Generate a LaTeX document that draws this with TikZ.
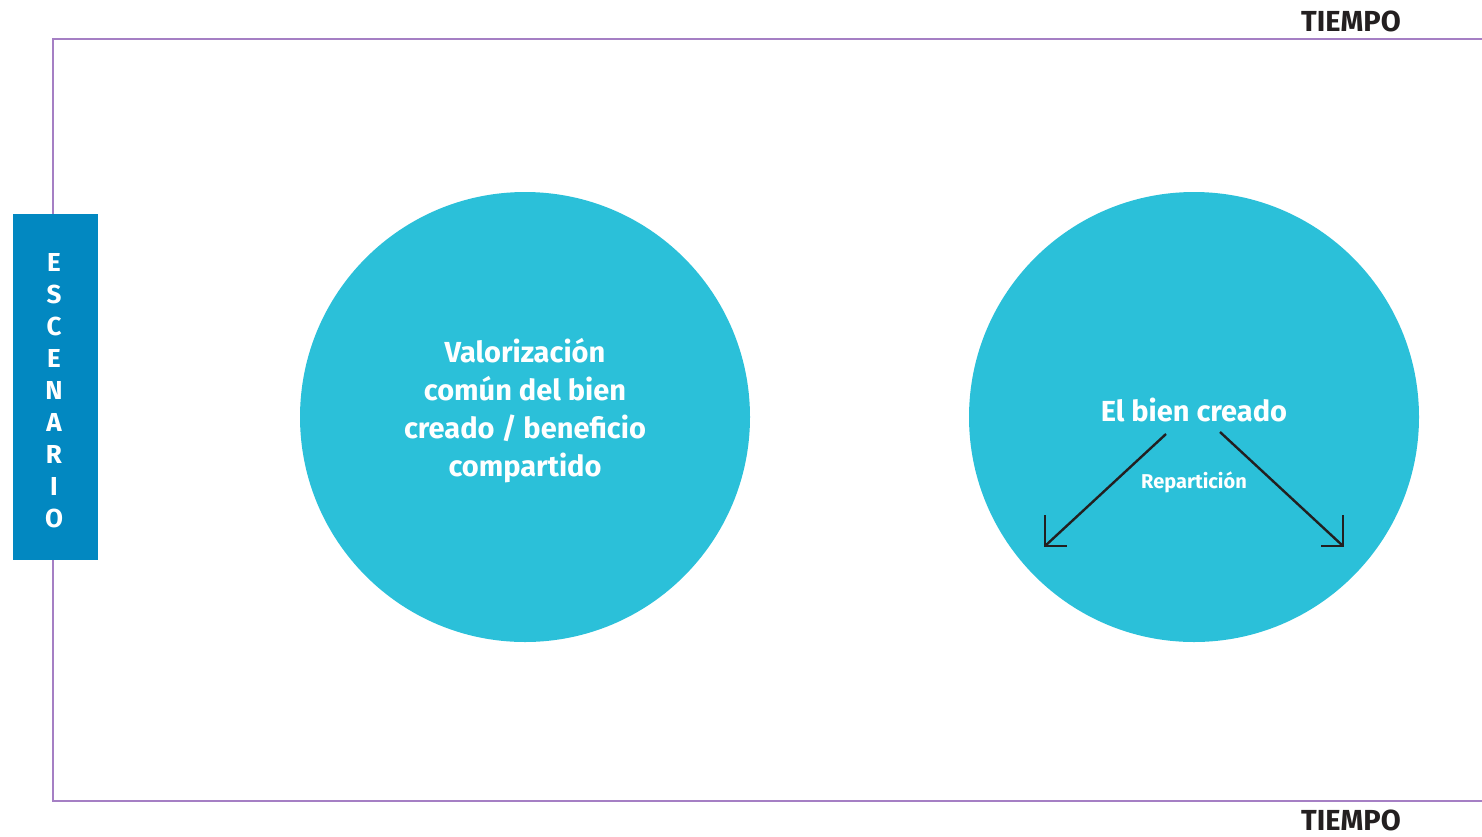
\documentclass[tikz,border=0pt]{standalone}
\usepackage{fontspec}
\setmainfont{Fira Sans}
\usetikzlibrary{arrows.meta,positioning,calc}
\definecolor{marco}{HTML}{A57FC4}
\definecolor{escena}{HTML}{0288C1}
\definecolor{circulo}{HTML}{2BC0D9}
\definecolor{tinta}{HTML}{231F20}
\tikzset{
  bola/.style={circle, fill=circulo, minimum size=450pt, inner sep=0pt},
  blanco/.style={text=white, font=\bfseries\fontsize{29}{38}\selectfont, align=center, inner sep=0pt},
  letra/.style={text=white, font=\bfseries\fontsize{26}{30}\selectfont, inner sep=0pt},
  tiempo/.style={text=tinta, font=\bfseries\fontsize{29}{34}\selectfont, inner sep=0pt},
  flecha/.style={tinta, line width=2.4pt}
}

\begin{document}
\begin{tikzpicture}[x=1pt, y=-1pt]
\useasboundingbox (0,0) rectangle (1482,836);
% marco de tiempo
\draw[marco, line width=2.8pt] (1482,39) -- (53,39) -- (53,801) -- (1482,801);
\node[tiempo] (t1) at (1351,21)  {TIEMPO};
\node[tiempo] (t2) at (1351,820) {TIEMPO};
% escenario
\fill[escena] (13,214) rectangle (98,560);
\foreach \l [count=\i] in {E,S,C,E,N,A,R,I,O}
  \node[letra] (e\i) at (54,230+32*\i) {\l};
% circulos
\node[bola] (izq) at (525,417) {};
\node[bola] (der) at (1194,417) {};
\node[blanco] (valor) at (izq) [yshift=6pt] {Valorización\\común del bien\\creado / beneficio\\compartido};
\node[blanco, font=\bfseries\fontsize{29}{38}\selectfont] (bien) at (1194,410) {El bien creado};
\node[blanco, font=\bfseries\fontsize{20}{24}\selectfont] (rep) at (1194,482) {Repartición};
% reparticion
\coordinate (a1) at (1166,434);
\coordinate (a2) at (1220,432);
\coordinate (b1) at (1045,546);
\coordinate (b2) at (1343,546);
\draw[flecha] (a1) -- (b1);
\draw[flecha] (a2) -- (b2);
\draw[flecha] ($(b1)+(0,-31)$) -- (b1) -- ++(22,0);
\draw[flecha] ($(b2)+(0,-31)$) -- (b2) -- ++(-22,0);
\end{tikzpicture}
\end{document}
